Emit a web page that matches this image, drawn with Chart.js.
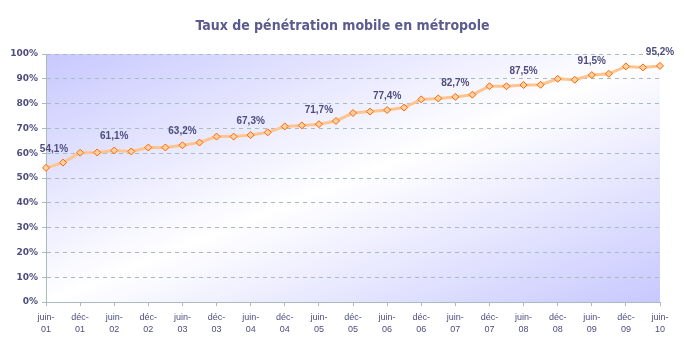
<!DOCTYPE html>
<html>
<head>
<meta charset="utf-8">
<script src="https://cdn.jsdelivr.net/npm/chart.js@4"></script>
<style>
  html, body { margin: 0; padding: 0; background: #fff; }
</style>
</head>
<body>
<canvas id="chart" width="685" height="343"></canvas>
<script>
// quarterly figures, juin 2001 -> juin 2010
const quarters = [
  'juin-01', 'sept-01', 'déc-01', 'mars-02',
  'juin-02', 'sept-02', 'déc-02', 'mars-03',
  'juin-03', 'sept-03', 'déc-03', 'mars-04',
  'juin-04', 'sept-04', 'déc-04', 'mars-05',
  'juin-05', 'sept-05', 'déc-05', 'mars-06',
  'juin-06', 'sept-06', 'déc-06', 'mars-07',
  'juin-07', 'sept-07', 'déc-07', 'mars-08',
  'juin-08', 'sept-08', 'déc-08', 'mars-09',
  'juin-09', 'sept-09', 'déc-09', 'mars-10',
  'juin-10'
];
const penetration = [
  54.1, 56.2, 60.2, 60.3,
  61.1, 60.7, 62.3, 62.3,
  63.2, 64.3, 66.7, 66.7,
  67.3, 68.4, 70.8, 71.2,
  71.7, 73.0, 76.2, 76.8,
  77.4, 78.4, 81.7, 82.1,
  82.7, 83.6, 87.0, 87.0,
  87.5, 87.6, 90.0, 89.6,
  91.5, 92.0, 95.0, 94.6,
  95.2
];
// quarters that carry a value label (every juin)
const labelled = [0, 4, 8, 12, 16, 20, 24, 28, 32, 36];
const title = 'Taux de pénétration mobile en métropole';

const textColor = '#4e4e7e';
const axisColor = '#a8bcbc';

const plotBackground = {
  id: 'plotBackground',
  beforeDraw(chart) {
    const { ctx, chartArea: a } = chart;
    ctx.save();
    ctx.translate(a.left, a.top);
    ctx.scale(a.right - a.left, a.bottom - a.top);
    const g = ctx.createLinearGradient(0, 0, 1, 1);
    g.addColorStop(0, '#c8c8ff');
    g.addColorStop(0.5, '#ffffff');
    g.addColorStop(1, '#c8c8ff');
    ctx.fillStyle = g;
    ctx.fillRect(0, 0, 1, 1);
    ctx.restore();
  }
};

// title centred on the whole canvas, not on the chart box
const centredTitle = {
  id: 'centredTitle',
  afterDraw(chart) {
    const ctx = chart.ctx;
    ctx.save();
    ctx.font = 'bold 14px "DejaVu Sans Condensed"';
    ctx.fillStyle = '#5b5b8f';
    ctx.textAlign = 'center';
    ctx.textBaseline = 'alphabetic';
    ctx.fillText(title, chart.width / 2, 30);
    ctx.restore();
  }
};

const valueLabels = {
  id: 'valueLabels',
  afterDatasetsDraw(chart) {
    const ctx = chart.ctx;
    const pts = chart.getDatasetMeta(0).data;
    ctx.save();
    ctx.font = 'bold 10px "Liberation Sans"';
    ctx.fillStyle = textColor;
    ctx.textAlign = 'center';
    ctx.textBaseline = 'middle';
    labelled.forEach(i => {
      const txt = penetration[i].toFixed(1).replace('.', ',') + '%';
      const first = i === 0;
      ctx.fillText(txt, pts[i].x + (first ? 8 : 0), pts[i].y - (first ? 19 : 14));
    });
    ctx.restore();
  }
};

new Chart(document.getElementById('chart'), {
  type: 'line',
  data: {
    labels: quarters,
    datasets: [{
      data: penetration,
      borderColor: '#ffc48f',
      borderWidth: 3,
      tension: 0,
      clip: false,
      pointStyle: 'rectRot',
      pointRadius: 3.5,
      pointBorderWidth: 1,
      pointBorderColor: '#ff6600',
      pointBackgroundColor: '#ffd0a0'
    }]
  },
  options: {
    responsive: false,
    animation: false,
    layout: { padding: { left: 0, right: 25, top: 54, bottom: 0 } },
    plugins: {
      legend: { display: false },
      tooltip: { enabled: false },
      title: { display: false }
    },
    scales: {
      x: {
        afterFit(scale) { scale.height = 41; },
        grid: { drawOnChartArea: false, tickLength: 4, color: axisColor },
        border: { color: axisColor },
        ticks: {
          autoSkip: false,
          maxRotation: 0,
          padding: 5,
          color: textColor,
          font: { family: '"Liberation Sans"', size: 9, lineHeight: 1.4 },
          callback(v, i) {
            if (i % 2) return null;
            const l = quarters[i];
            const p = l.indexOf('-') + 1;
            return [l.slice(0, p), l.slice(p)];
          }
        }
      },
      y: {
        min: 0,
        max: 100,
        afterFit(scale) { scale.width = 46; },
        grid: { color: axisColor, tickLength: 4, tickBorderDash: [] },
        border: { color: axisColor, dash: [4, 4] },
        ticks: {
          stepSize: 10,
          padding: 4,
          color: textColor,
          font: { family: '"DejaVu Sans"', size: 9, weight: 'bold' },
          callback: v => v + '%'
        }
      }
    }
  },
  plugins: [plotBackground, valueLabels, centredTitle]
});
</script>
</body>
</html>
